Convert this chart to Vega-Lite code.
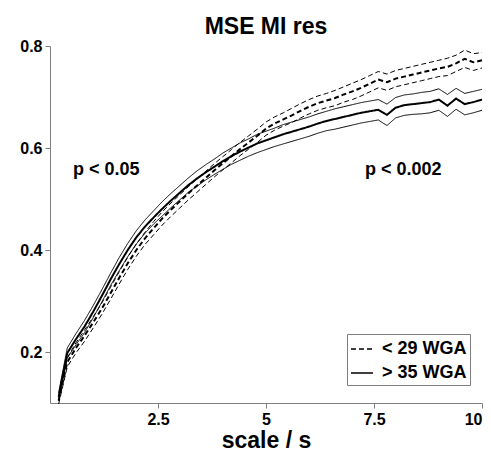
{
  "$schema": "https://vega.github.io/schema/vega-lite/v6.json",
  "width": 432,
  "height": 357,
  "autosize": "none",
  "padding": {"left": 50, "top": 46, "right": 9, "bottom": 48},
  "background": "white",
  "title": {"text": "MSE MI res", "fontSize": 23, "fontWeight": "bold", "font": "Liberation Sans", "anchor": "middle", "baseline": "alphabetic", "offset": 7, "dy": 26, "color": "black"},
  "config": {
    "view": {"stroke": null},
    "font": "Liberation Sans",
    "axis": {"grid": false, "domainColor": "#7f7f7f", "tickColor": "#7f7f7f", "tickSize": 5, "labelPadding": 3, "labelFontSize": 16, "labelFontWeight": "bold", "labelColor": "black", "titleFontSize": 23, "titleFontWeight": "bold", "titleColor": "black", "labelFont": "Liberation Sans", "titleFont": "Liberation Sans"},
    "legend": {"orient": "none", "legendX": 297, "legendY": 288, "padding": 3, "strokeColor": "#7f7f7f", "fillColor": "white", "symbolType": "stroke", "symbolSize": 484, "symbolStrokeWidth": 1.5, "symbolStrokeColor": "black", "labelFontSize": 18, "labelFontWeight": "bold", "labelColor": "black", "labelFont": "Liberation Sans", "labelOffset": 8, "rowPadding": 3}
  },
  "datasets": {
    "curves": [
      {"x": 0.2, "dlo": 0.098, "dmid": 0.105, "dhi": 0.112, "slo": 0.104, "smid": 0.112, "shi": 0.12},
      {"x": 0.4, "dlo": 0.171, "dmid": 0.18, "dhi": 0.189, "slo": 0.188, "smid": 0.198, "shi": 0.208},
      {"x": 0.6, "dlo": 0.198, "dmid": 0.208, "dhi": 0.218, "slo": 0.214, "smid": 0.225, "shi": 0.236},
      {"x": 0.8, "dlo": 0.221, "dmid": 0.232, "dhi": 0.243, "slo": 0.238, "smid": 0.25, "shi": 0.262},
      {"x": 1.0, "dlo": 0.247, "dmid": 0.258, "dhi": 0.269, "slo": 0.267, "smid": 0.279, "shi": 0.291},
      {"x": 1.2, "dlo": 0.274, "dmid": 0.285, "dhi": 0.296, "slo": 0.298, "smid": 0.31, "shi": 0.322},
      {"x": 1.4, "dlo": 0.303, "dmid": 0.315, "dhi": 0.327, "slo": 0.33, "smid": 0.342, "shi": 0.354},
      {"x": 1.6, "dlo": 0.333, "dmid": 0.345, "dhi": 0.357, "slo": 0.359, "smid": 0.372, "shi": 0.385},
      {"x": 1.8, "dlo": 0.362, "dmid": 0.374, "dhi": 0.386, "slo": 0.387, "smid": 0.4, "shi": 0.413},
      {"x": 2.0, "dlo": 0.388, "dmid": 0.4, "dhi": 0.412, "slo": 0.412, "smid": 0.425, "shi": 0.438},
      {"x": 2.2, "dlo": 0.411, "dmid": 0.423, "dhi": 0.435, "slo": 0.433, "smid": 0.446, "shi": 0.459},
      {"x": 2.4, "dlo": 0.43, "dmid": 0.443, "dhi": 0.456, "slo": 0.451, "smid": 0.464, "shi": 0.477},
      {"x": 2.6, "dlo": 0.449, "dmid": 0.462, "dhi": 0.475, "slo": 0.467, "smid": 0.481, "shi": 0.495},
      {"x": 2.8, "dlo": 0.466, "dmid": 0.479, "dhi": 0.492, "slo": 0.483, "smid": 0.497, "shi": 0.511},
      {"x": 3.0, "dlo": 0.482, "dmid": 0.495, "dhi": 0.508, "slo": 0.498, "smid": 0.512, "shi": 0.526},
      {"x": 3.2, "dlo": 0.498, "dmid": 0.511, "dhi": 0.524, "slo": 0.513, "smid": 0.527, "shi": 0.541},
      {"x": 3.4, "dlo": 0.513, "dmid": 0.526, "dhi": 0.539, "slo": 0.525, "smid": 0.54, "shi": 0.555},
      {"x": 3.6, "dlo": 0.528, "dmid": 0.541, "dhi": 0.554, "slo": 0.537, "smid": 0.552, "shi": 0.567},
      {"x": 3.8, "dlo": 0.543, "dmid": 0.556, "dhi": 0.569, "slo": 0.548, "smid": 0.563, "shi": 0.578},
      {"x": 4.0, "dlo": 0.557, "dmid": 0.57, "dhi": 0.583, "slo": 0.558, "smid": 0.574, "shi": 0.59},
      {"x": 4.2, "dlo": 0.571, "dmid": 0.584, "dhi": 0.597, "slo": 0.568, "smid": 0.584, "shi": 0.6},
      {"x": 4.4, "dlo": 0.585, "dmid": 0.598, "dhi": 0.611, "slo": 0.576, "smid": 0.593, "shi": 0.61},
      {"x": 4.6, "dlo": 0.598, "dmid": 0.611, "dhi": 0.624, "slo": 0.584, "smid": 0.601, "shi": 0.618},
      {"x": 4.8, "dlo": 0.611, "dmid": 0.624, "dhi": 0.637, "slo": 0.591, "smid": 0.609, "shi": 0.627},
      {"x": 5.0, "dlo": 0.625, "dmid": 0.638, "dhi": 0.651, "slo": 0.597, "smid": 0.615, "shi": 0.633},
      {"x": 5.2, "dlo": 0.635, "dmid": 0.648, "dhi": 0.661, "slo": 0.603, "smid": 0.621, "shi": 0.639},
      {"x": 5.4, "dlo": 0.643, "dmid": 0.656, "dhi": 0.669, "slo": 0.608, "smid": 0.627, "shi": 0.646},
      {"x": 5.6, "dlo": 0.65, "dmid": 0.664, "dhi": 0.678, "slo": 0.613, "smid": 0.632, "shi": 0.651},
      {"x": 5.8, "dlo": 0.659, "dmid": 0.673, "dhi": 0.687, "slo": 0.618, "smid": 0.637, "shi": 0.656},
      {"x": 6.0, "dlo": 0.667, "dmid": 0.681, "dhi": 0.695, "slo": 0.623, "smid": 0.642, "shi": 0.661},
      {"x": 6.2, "dlo": 0.674, "dmid": 0.688, "dhi": 0.702, "slo": 0.629, "smid": 0.648, "shi": 0.667},
      {"x": 6.4, "dlo": 0.679, "dmid": 0.693, "dhi": 0.707, "slo": 0.634, "smid": 0.653, "shi": 0.672},
      {"x": 6.6, "dlo": 0.683, "dmid": 0.698, "dhi": 0.713, "slo": 0.637, "smid": 0.657, "shi": 0.677},
      {"x": 6.8, "dlo": 0.69, "dmid": 0.705, "dhi": 0.72, "slo": 0.641, "smid": 0.661, "shi": 0.681},
      {"x": 7.0, "dlo": 0.695, "dmid": 0.711, "dhi": 0.727, "slo": 0.645, "smid": 0.665, "shi": 0.685},
      {"x": 7.2, "dlo": 0.702, "dmid": 0.718, "dhi": 0.734, "slo": 0.649, "smid": 0.669, "shi": 0.689},
      {"x": 7.4, "dlo": 0.71, "dmid": 0.726, "dhi": 0.742, "slo": 0.652, "smid": 0.672, "shi": 0.692},
      {"x": 7.6, "dlo": 0.718, "dmid": 0.734, "dhi": 0.75, "slo": 0.655, "smid": 0.675, "shi": 0.695},
      {"x": 7.8, "dlo": 0.713, "dmid": 0.729, "dhi": 0.745, "slo": 0.644, "smid": 0.665, "shi": 0.686},
      {"x": 8.0, "dlo": 0.72, "dmid": 0.736, "dhi": 0.752, "slo": 0.659, "smid": 0.679, "shi": 0.699},
      {"x": 8.2, "dlo": 0.724, "dmid": 0.74, "dhi": 0.756, "slo": 0.664, "smid": 0.684, "shi": 0.704},
      {"x": 8.4, "dlo": 0.728, "dmid": 0.744, "dhi": 0.76, "slo": 0.666, "smid": 0.686, "shi": 0.706},
      {"x": 8.6, "dlo": 0.732, "dmid": 0.748, "dhi": 0.764, "slo": 0.667, "smid": 0.688, "shi": 0.709},
      {"x": 8.8, "dlo": 0.736, "dmid": 0.752, "dhi": 0.768, "slo": 0.669, "smid": 0.69, "shi": 0.711},
      {"x": 9.0, "dlo": 0.74, "dmid": 0.756, "dhi": 0.772, "slo": 0.674, "smid": 0.695, "shi": 0.716},
      {"x": 9.2, "dlo": 0.742, "dmid": 0.759, "dhi": 0.776, "slo": 0.662, "smid": 0.683, "shi": 0.705},
      {"x": 9.4, "dlo": 0.75, "dmid": 0.766, "dhi": 0.782, "slo": 0.676, "smid": 0.697, "shi": 0.717},
      {"x": 9.6, "dlo": 0.758, "dmid": 0.775, "dhi": 0.792, "slo": 0.665, "smid": 0.686, "shi": 0.707},
      {"x": 9.8, "dlo": 0.752, "dmid": 0.768, "dhi": 0.785, "slo": 0.669, "smid": 0.69, "shi": 0.711},
      {"x": 10.0, "dlo": 0.757, "dmid": 0.772, "dhi": 0.787, "slo": 0.674, "smid": 0.695, "shi": 0.715}
    ]
  },
  "layer": [
    {
      "data": {"name": "curves"},
      "transform": [{"fold": ["dlo", "dhi"], "as": ["k", "v"]}],
      "mark": {"type": "line", "color": "black", "strokeWidth": 1},
      "encoding": {
        "x": {"field": "x", "type": "quantitative", "scale": {"domain": [0, 10], "nice": false},
              "axis": {"values": [2.5, 5, 7.5, 10], "labelExpr": "'' + datum.value", "title": "scale / s", "titleY": 44, "titleBaseline": "alphabetic"}},
        "y": {"field": "v", "type": "quantitative", "scale": {"domain": [0.1, 0.8], "nice": false, "zero": false},
              "axis": {"values": [0.2, 0.4, 0.6, 0.8], "format": ".1f", "title": null}},
        "detail": {"field": "k"},
        "strokeDash": {"datum": "< 29 WGA", "type": "nominal",
              "scale": {"domain": ["< 29 WGA", "> 35 WGA"], "range": [[5, 3], [1, 0]]},
              "legend": {"title": null}}
      }
    },
    {
      "data": {"name": "curves"},
      "mark": {"type": "line", "color": "black", "strokeWidth": 2},
      "encoding": {
        "x": {"field": "x", "type": "quantitative"},
        "y": {"field": "dmid", "type": "quantitative"},
        "strokeDash": {"datum": "< 29 WGA", "type": "nominal"}
      }
    },
    {
      "data": {"name": "curves"},
      "transform": [{"fold": ["slo", "shi"], "as": ["k", "v"]}],
      "mark": {"type": "line", "color": "black", "strokeWidth": 1},
      "encoding": {
        "x": {"field": "x", "type": "quantitative"},
        "y": {"field": "v", "type": "quantitative"},
        "detail": {"field": "k"},
        "strokeDash": {"datum": "> 35 WGA", "type": "nominal"}
      }
    },
    {
      "data": {"name": "curves"},
      "mark": {"type": "line", "color": "black", "strokeWidth": 2},
      "encoding": {
        "x": {"field": "x", "type": "quantitative"},
        "y": {"field": "smid", "type": "quantitative"},
        "strokeDash": {"datum": "> 35 WGA", "type": "nominal"}
      }
    },
    {
      "data": {"values": [{"t": "p < 0.05"}]},
      "mark": {"type": "text", "align": "left", "baseline": "alphabetic", "fontSize": 18, "fontWeight": "bold", "font": "Liberation Sans", "color": "black"},
      "encoding": {
        "x": {"datum": 0.53, "type": "quantitative"},
        "y": {"datum": 0.547, "type": "quantitative"},
        "text": {"field": "t"}
      }
    },
    {
      "data": {"values": [{"t": "p < 0.002"}]},
      "mark": {"type": "text", "align": "left", "baseline": "alphabetic", "fontSize": 18, "fontWeight": "bold", "font": "Liberation Sans", "color": "black"},
      "encoding": {
        "x": {"datum": 7.29, "type": "quantitative"},
        "y": {"datum": 0.547, "type": "quantitative"},
        "text": {"field": "t"}
      }
    }
  ]
}
